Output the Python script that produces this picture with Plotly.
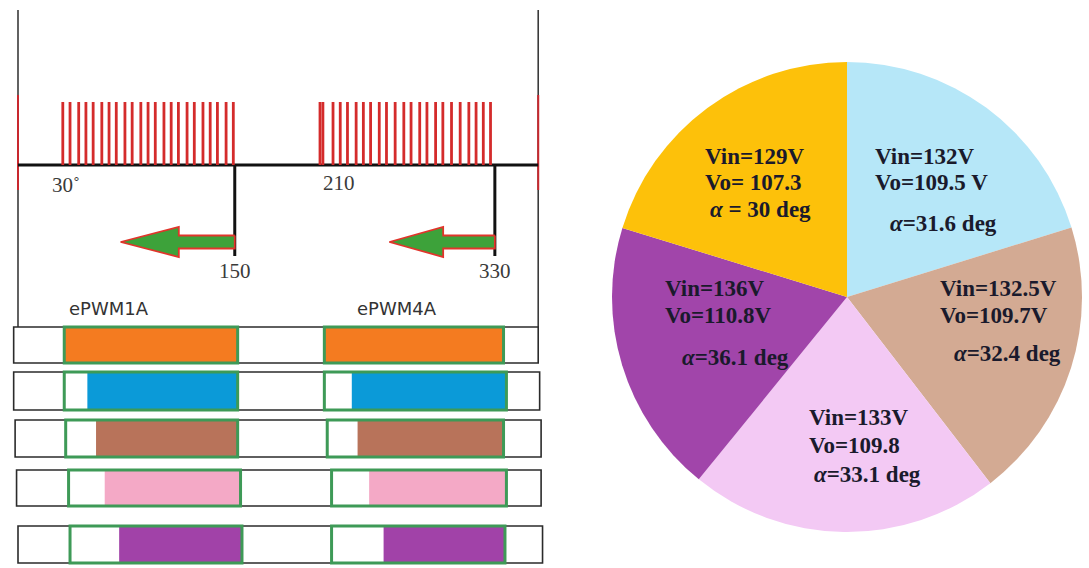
import plotly.graph_objects as go

# ---------------- data ----------------
# timing diagram (angles in degrees)
PULSES_A = [31, 36, 42, 47, 52, 58, 63, 68, 74, 79, 85, 90, 95, 101, 106, 111,
            117, 122, 128, 133, 138, 144, 149]
PULSES_B = [209, 211, 218, 223, 228, 234, 239, 244, 250, 255, 261, 267, 272,
            278, 283, 289, 294, 300, 306, 312, 317, 322, 327]
ANGLE_LABELS = ["30˚", "150", "210", "330"]
ANGLE_VALUES = [30, 150, 210, 330]
ARROW_FROM = [150, 330]
ARROW_TO = [71, 257]
CHANNELS = ["ePWM1A", "ePWM4A"]
CHANNEL_CENTER = [63, 262]

# per-row bars: window start/end and fill start for the two conduction windows
ROW_WIN1 = [(32, 152), (32, 152), (33, 152), (35, 154), (36, 155)]
ROW_WIN2 = [(212, 336), (212, 338), (214, 336), (217, 338), (217, 337)]
ROW_FILL1 = [32, 48, 54, 60, 70]
ROW_FILL2 = [212, 231, 235, 243, 253]
ROW_OUTER = [(-3, 360), (-3, 361), (-2, 362), (-1, 362), (0, 363)]
ROW_COLORS = ["#F47B20", "#0B9AD8", "#B8735A", "#F4A9C6", "#A142A8"]

# pie (slice angular sizes, clockwise from 12 o'clock)
PIE_LABELS = ["B", "C", "D", "E", "A"]
PIE_VALUES = [72.8, 69.6, 76.7, 68.0, 72.9]
PIE_COLORS = ["#B6E7F8", "#D3AA93", "#F3C9F4", "#A145AA", "#FDC10A"]
PIE_VIN = ["Vin=132V", "Vin=132.5V", "Vin=133V", "Vin=136V", "Vin=129V"]
PIE_VO = ["Vo=109.5 V", "Vo=109.7V", "Vo=109.8", "Vo=110.8V", "Vo= 107.3"]
PIE_ALPHA = ["=31.6 deg", "=32.4 deg", "=33.1 deg", "=36.1 deg", " = 30 deg"]

# ---------------- layout constants ----------------
W, H = 1089, 568
BASE_Y = 165
PULSE_TOP = 102
ROW_TOP = [327, 372, 420, 470, 526]
ROW_H = [36, 38, 37, 36, 37]
ARROW_Y = 242
TEXT_POS = [  # (x_left, y_vin, y_vo, x_alpha, y_alpha) in pixels
    (873, 156, 182, 888, 223),
    (938, 288, 315, 952, 353),
    (807, 417, 445, 812, 474),
    (663, 288, 315, 680, 357),
    (703, 156, 182, 708, 209),
]

fig = go.Figure()

# frame lines at 0 and 360
for a in (0, 360):
    fig.add_trace(go.Scatter(x=[a, a], y=[10, 327], mode="lines",
                             line=dict(color="#3a3a3a", width=1.6),
                             hoverinfo="skip", showlegend=False))
    fig.add_trace(go.Scatter(x=[a, a], y=[95, 190], mode="lines",
                             line=dict(color="#C8282E", width=2),
                             hoverinfo="skip", showlegend=False))

# baseline
fig.add_trace(go.Scatter(x=[0, 360], y=[BASE_Y, BASE_Y], mode="lines",
                         line=dict(color="#111111", width=3),
                         hoverinfo="skip", showlegend=False))

# pulses
px, py = [], []
for p in PULSES_A + PULSES_B:
    px += [p, p, None]
    py += [BASE_Y, PULSE_TOP, None]
fig.add_trace(go.Scatter(x=px, y=py, mode="lines",
                         line=dict(color="#D42B2B", width=2.8),
                         hoverinfo="skip", showlegend=False))

# vertical markers at 150 and 330
for a in ARROW_FROM:
    fig.add_trace(go.Scatter(x=[a, a], y=[BASE_Y, 256], mode="lines",
                             line=dict(color="#111111", width=3),
                             hoverinfo="skip", showlegend=False))

# arrows
for a0, a1 in zip(ARROW_FROM, ARROW_TO):
    hb = a0 - 0.49 * (a0 - a1)
    xs = [a0, hb, hb, a1, hb, hb, a0, a0]
    ys = [ARROW_Y - 6.5, ARROW_Y - 6.5, ARROW_Y - 15, ARROW_Y,
          ARROW_Y + 15, ARROW_Y + 6.5, ARROW_Y + 6.5, ARROW_Y - 6.5]
    fig.add_trace(go.Scatter(x=xs, y=ys, mode="lines", fill="toself",
                             fillcolor="#3DA23A",
                             line=dict(color="#E0352B", width=1.8),
                             hoverinfo="skip", showlegend=False))

# angle labels
label_y = [185, 271, 183, 271]
label_dx = [3, 0, 12, 0]
for t, v, yy, dx in zip(ANGLE_LABELS, ANGLE_VALUES, label_y, label_dx):
    fig.add_annotation(x=v, y=yy, xref="x", yref="y", text=t, showarrow=False,
                       xshift=dx * 1.445,
                       font=dict(family="Liberation Serif", size=21, color="#3a3a3a"))

for t, c in zip(CHANNELS, CHANNEL_CENTER):
    fig.add_annotation(x=c, y=308, xref="x", yref="y", text=t, showarrow=False,
                       font=dict(family="DejaVu Sans", size=18, color="#333333"))

# rows of conduction bars
shapes = []
for i in range(5):
    y0 = ROW_TOP[i]
    y1 = y0 + ROW_H[i]
    ol, orr = ROW_OUTER[i]
    shapes.append(dict(type="rect", xref="x", yref="y", x0=ol, x1=orr, y0=y0, y1=y1,
                       line=dict(color="#2b2b2b", width=1.6), fillcolor="rgba(0,0,0,0)"))
    for (ws, we), fs in ((ROW_WIN1[i], ROW_FILL1[i]), (ROW_WIN2[i], ROW_FILL2[i])):
        shapes.append(dict(type="rect", xref="x", yref="y", x0=ws, x1=we, y0=y0, y1=y1,
                           line=dict(width=0), fillcolor="white"))
        shapes.append(dict(type="rect", xref="x", yref="y", x0=fs, x1=we, y0=y0, y1=y1,
                           line=dict(width=0), fillcolor=ROW_COLORS[i]))
        shapes.append(dict(type="rect", xref="x", yref="y", x0=ws, x1=we, y0=y0, y1=y1,
                           line=dict(color="#3E9A57", width=3), fillcolor="rgba(0,0,0,0)"))

# pie
cx, cy, r = 847, 297, 235
fig.add_trace(go.Pie(
    labels=PIE_LABELS, values=PIE_VALUES, sort=False, direction="clockwise",
    rotation=0, textinfo="none", hoverinfo="skip", showlegend=False,
    marker=dict(colors=PIE_COLORS, line=dict(width=0)),
    domain=dict(x=[(cx - r) / W, (cx + r) / W], y=[1 - (cy + r) / H, 1 - (cy - r) / H]),
))

tfont = dict(family="Liberation Serif", size=23, color="#1a1a2c")
for i in range(5):
    xl, yv, yo, xa, ya = TEXT_POS[i]
    for txt, xx, yy in ((PIE_VIN[i], xl, yv), (PIE_VO[i], xl, yo),
                        ("<i>α</i>" + PIE_ALPHA[i], xa, ya)):
        fig.add_annotation(x=xx / W, y=1 - yy / H, xref="paper", yref="paper",
                           xanchor="left", yanchor="middle", showarrow=False,
                           text="<b>" + txt + "</b>", font=tfont)

fig.update_layout(
    width=W, height=H, margin=dict(l=0, r=0, t=0, b=0),
    paper_bgcolor="white", plot_bgcolor="white",
    xaxis=dict(range=[-12.46, 364.7], domain=[0, 545 / W], visible=False, fixedrange=True),
    yaxis=dict(range=[H, 0], domain=[0, 1], visible=False, fixedrange=True),
    shapes=shapes,
)

fig.write_html("out.html", config={"displayModeBar": False},
               post_script="document.body.style.margin='0';document.body.style.overflow='hidden';")
